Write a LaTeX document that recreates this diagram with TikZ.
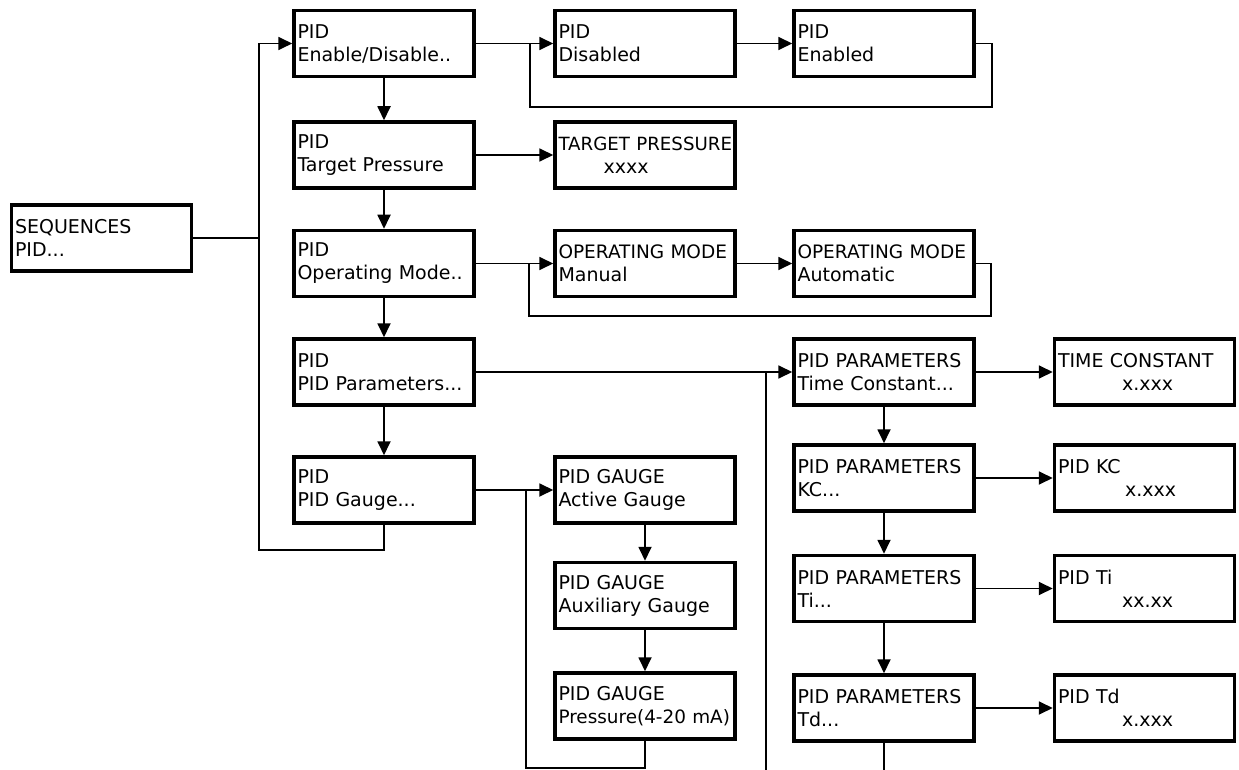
\documentclass[tikz,border=0pt]{standalone}
\usepackage{fontspec}
\setmainfont{DejaVu Sans}
\usetikzlibrary{arrows.meta}
\newcommand{\twol}[2]{\mbox{#1}\\\mbox{#2}}
\begin{document}
\begin{tikzpicture}[x=1pt,y=-1pt,
  box/.style={draw,line width=3.5pt,minimum width=180pt,minimum height=66pt,
    text width=173pt,inner xsep=3.5pt,align=left,font=\fontsize{19}{23}\selectfont},
  conn/.style={line width=1.8pt},
  arr/.style={conn,-{Triangle[length=14pt,width=13pt]}}]
\useasboundingbox (0,0) rectangle (1239,770);
% left
\node[box] (seq) at (101.5,238) {\twol{SEQUENCES}{PID...}};
% column 1
\node[box] (en) at (384,43.5) {\twol{PID}{Enable/Disable..}};
\node[box] (tp) at (384,155) {\twol{PID}{Target Pressure}};
\node[box] (om) at (384,263.5) {\twol{PID}{Operating Mode..}};
\node[box] (pp) at (384,372) {\twol{PID}{PID Parameters...}};
\node[box] (pg) at (384,490) {\twol{PID}{PID Gauge...}};
% column 2
\node[box] (dis) at (645,43.5) {\twol{PID}{Disabled}};
\node[box] (tpv) at (645,155) {\twol{\fontsize{18.2}{23}\selectfont TARGET PRESSURE}{\hspace*{45pt}xxxx}};
\node[box] (man) at (645,263.5) {\twol{\fontsize{18.5}{23}\selectfont OPERATING MODE}{Manual}};
\node[box] (ag) at (645,490) {\twol{PID GAUGE}{Active Gauge}};
\node[box] (ax) at (645,595.5) {\twol{PID GAUGE}{Auxiliary Gauge}};
\node[box] (pr) at (645,706) {\twol{PID GAUGE}{\fontsize{18.4}{23}\selectfont Pressure(4-20 mA)}};
% column 3
\node[box] (ena) at (884,43.5) {\twol{PID}{Enabled}};
\node[box] (aut) at (884,263.5) {\twol{\fontsize{18.5}{23}\selectfont OPERATING MODE}{Automatic}};
\node[box] (tc) at (884,372) {\twol{PID PARAMETERS}{Time Constant...}};
\node[box] (kc) at (884,478) {\twol{PID PARAMETERS}{KC...}};
\node[box] (ti) at (884,588.5) {\twol{PID PARAMETERS}{Ti...}};
\node[box] (td) at (884,708) {\twol{PID PARAMETERS}{Td...}};
% column 4
\node[box] (tcv) at (1144.5,372) {\twol{TIME CONSTANT}{\hspace*{64pt}x.xxx}};
\node[box] (kcv) at (1144.5,478) {\twol{PID KC}{\hspace*{67pt}x.xxx}};
\node[box] (tiv) at (1144.5,588.5) {\twol{PID Ti}{\hspace*{64pt}xx.xx}};
\node[box] (tdv) at (1144.5,708) {\twol{PID Td}{\hspace*{64pt}x.xxx}};
% coordinates
\coordinate (jl) at (259,238);
\coordinate (lpc) at (259,550);
\coordinate (l1a) at (992,107);
\coordinate (l1b) at (530,43.5);
\coordinate (l2a) at (991,316);
\coordinate (l2b) at (529,263.5);
\coordinate (l3a) at (526,768);
\coordinate (l3b) at (526,490);
\coordinate (pv) at (766,372);
\coordinate (pvb) at (766,770);
\coordinate (tdb) at (884,770);
% connectors
\draw[conn] (seq.east) -- (jl);
\draw[arr] (pg.south) |- (lpc) |- (en.west);
\draw[arr] (en) -- (tp);
\draw[arr] (tp) -- (om);
\draw[arr] (om) -- (pp);
\draw[arr] (pp) -- (pg);
\draw[arr] (en) -- (dis);
\draw[arr] (dis) -- (ena);
\draw[conn] (ena.east) -| (l1a) -| (l1b);
\draw[arr] (tp) -- (tpv);
\draw[arr] (om) -- (man);
\draw[arr] (man) -- (aut);
\draw[conn] (aut.east) -| (l2a) -| (l2b);
\draw[arr] (pg) -- (ag);
\draw[arr] (ag) -- (ax);
\draw[arr] (ax) -- (pr);
\draw[conn] (pr.south) |- (l3a) -- (l3b);
\draw[arr] (pp) -- (tc);
\draw[conn] (pv) -- (pvb);
\draw[arr] (tc) -- (tcv);
\draw[arr] (kc) -- (kcv);
\draw[arr] (ti) -- (tiv);
\draw[arr] (td) -- (tdv);
\draw[arr] (tc) -- (kc);
\draw[arr] (kc) -- (ti);
\draw[arr] (ti) -- (td);
\draw[conn] (td.south) -- (tdb);
\end{tikzpicture}
\end{document}
